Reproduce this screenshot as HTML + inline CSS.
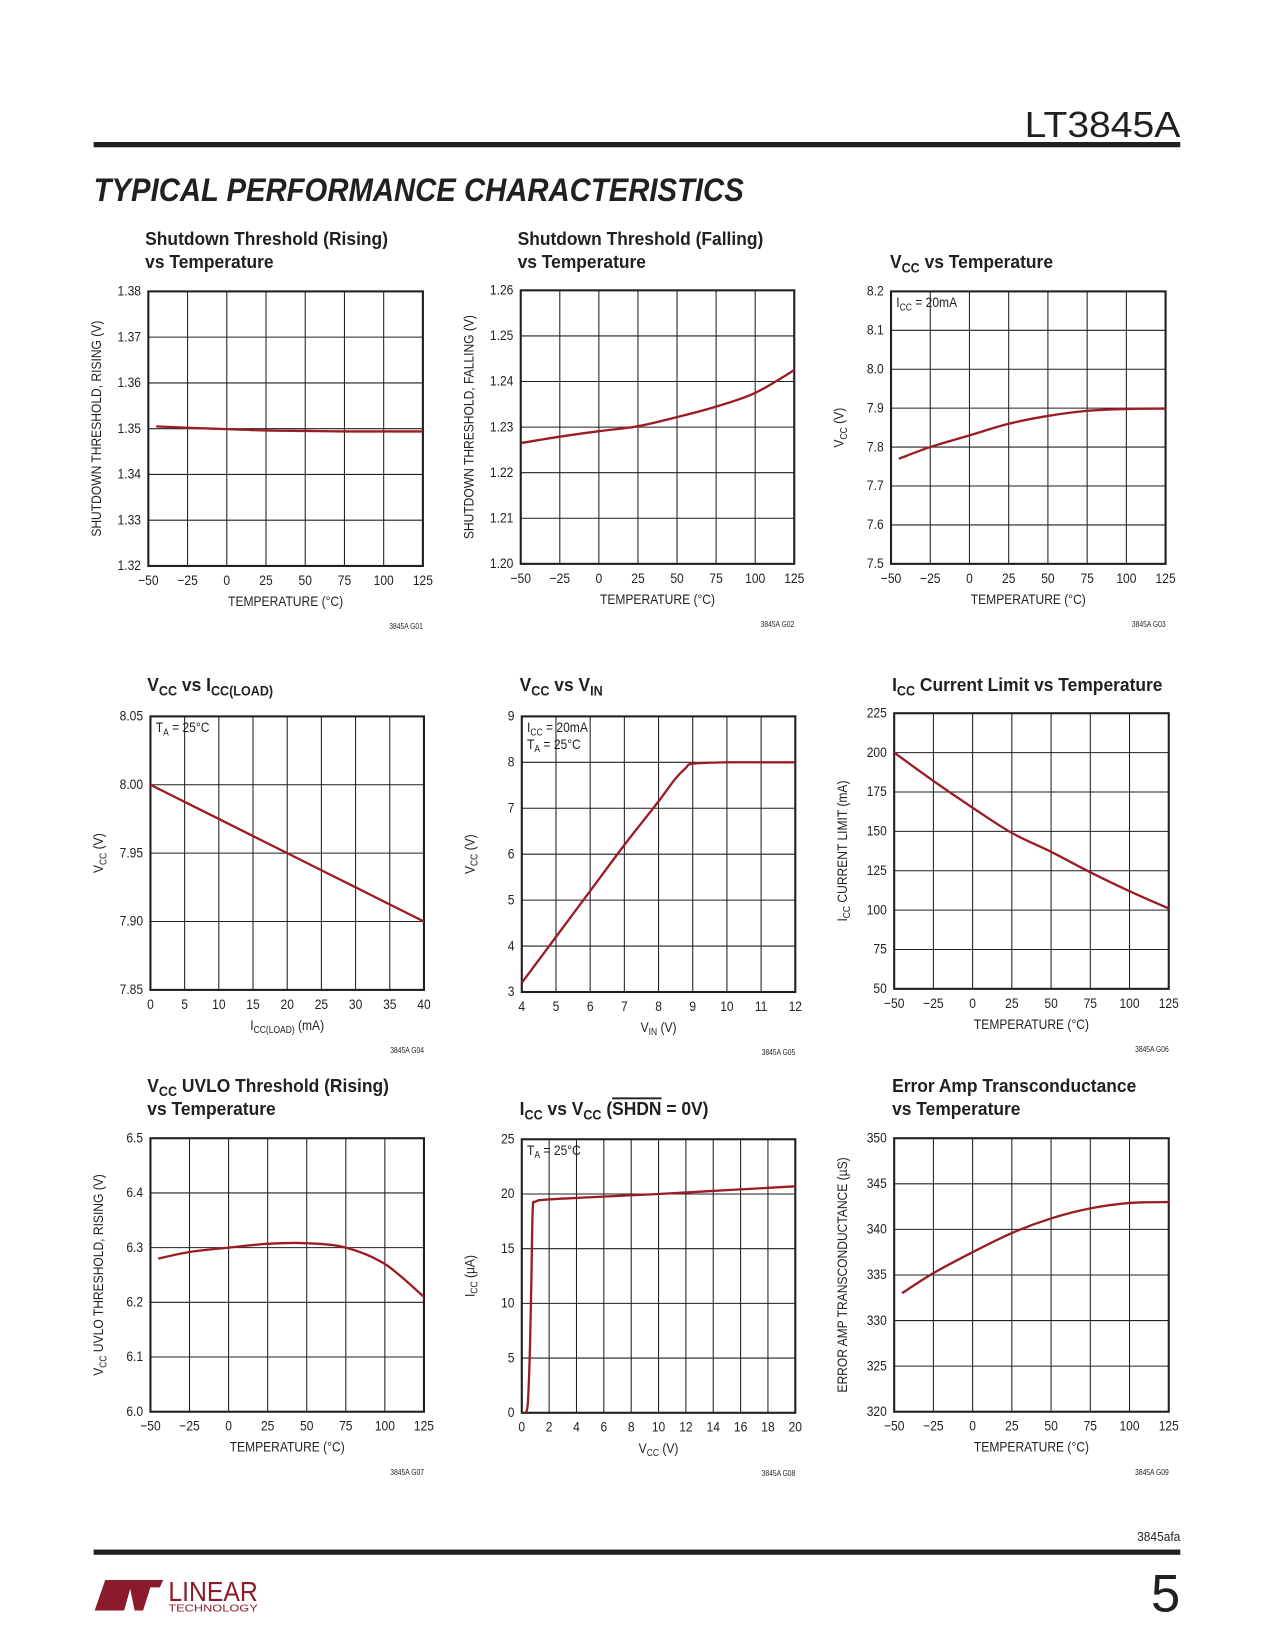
<!DOCTYPE html>
<html><head><meta charset="utf-8"><style>
html,body{margin:0;padding:0;background:#fff;}
svg{display:block;font-family:"Liberation Sans",sans-serif;}
.tk{font-size:13.5px;fill:#231f20;}
.ttl{font-size:18px;font-weight:bold;fill:#231f20;}
</style></head><body>
<svg id="pg" width="1275" height="1650" viewBox="0 0 1212 1568.5" xmlns="http://www.w3.org/2000/svg">
<text x="1122" y="130" text-anchor="end" font-size="34" font-weight="300" fill="#231f20" textLength="148" lengthAdjust="spacingAndGlyphs">LT3845A</text>
<rect x="89" y="135" width="1033" height="5" fill="#231f20"/>
<text x="89" y="191" font-size="31" font-weight="bold" font-style="italic" fill="#231f20" textLength="618" lengthAdjust="spacingAndGlyphs">TYPICAL PERFORMANCE CHARACTERISTICS</text>
<text x="1122" y="1465" text-anchor="end" font-size="12" fill="#231f20" textLength="41" lengthAdjust="spacingAndGlyphs">3845afa</text>
<rect x="89" y="1473" width="1033" height="5" fill="#231f20"/>
<text x="1122" y="1532" text-anchor="end" font-size="50" fill="#231f20">5</text>
<g>
<path d="M100 1502 L126 1502 L118 1531 L90 1531 Z" fill="#8b1a2b"/>
<path d="M122 1502 L155 1502 L152 1509 L143 1509 L136 1531 L128 1531 Z" fill="#8b1a2b"/>
<text x="160" y="1522" font-size="26" fill="#8b1a2b" textLength="85" lengthAdjust="spacingAndGlyphs">LINEAR</text>
<text x="160" y="1532" font-size="10" fill="#8b1a2b" textLength="85" lengthAdjust="spacingAndGlyphs">TECHNOLOGY</text>
</g>
<g id="charts"></g>
</svg>
<script>
// ---- data ----
const tempTicks=[-50,-25,0,25,50,75,100,125];
const c1x=[-45,-25,0,25,50,75,100,125], c1y=[1.3505,1.3502,1.3499,1.3496,1.3495,1.3494,1.3494,1.3494];
const c2x=[-50,-25,0,25,50,75,100,125], c2y=[1.2265,1.2279,1.2291,1.2302,1.2322,1.2345,1.2375,1.2425];
const c3x=[-45,-25,0,25,50,75,100,125], c3y=[7.77,7.80,7.83,7.86,7.88,7.893,7.898,7.899];
const c4x=[0,10,20,30,40], c4y=[8.00,7.975,7.95,7.925,7.90];
const c5x=[4,5,6,7,8,8.5,8.8,9,10,11,12], c5y=[3.2,4.2,5.2,6.2,7.15,7.65,7.88,7.97,8.0,8.0,8.0];
const c6x=[-50,-25,0,25,50,75,100,125], c6y=[200,182,165,149,137,124,112,101];
const c7x=[-45,-25,0,25,50,75,100,125], c7y=[6.28,6.292,6.30,6.307,6.308,6.30,6.27,6.21];
const c8x=[0.3,0.45,0.6,0.7,0.8,1,2,5,10,15,20], c8y=[0,1,6,12,18.5,19.3,19.5,19.7,20.0,20.35,20.7];
const c9x=[-45,-25,0,25,50,75,100,125], c9y=[333,335.2,337.5,339.6,341.2,342.3,342.9,343];

const S=(s)=>'<tspan font-size="9.5" dy="3">'+s+'</tspan><tspan dy="-3">';
const T=(s)=>'<tspan font-size="13" dy="4">'+s+'</tspan><tspan dy="-4">';
const charts=[
 {n:'shutdown-rising',b:[141,277,402,538],xt:tempTicks,yt:['1.32','1.33','1.34','1.35','1.36','1.37','1.38'],xs:c1x,ys:c1y,t:['Shutdown Threshold (Rising)','vs Temperature'],tx:138,ty:233,xl:'TEMPERATURE (°C)',yl:'SHUTDOWN THRESHOLD, RISING (V)',g:'3845A G01'},
 {n:'shutdown-falling',b:[495,276,755,536],xt:tempTicks,yt:['1.20','1.21','1.22','1.23','1.24','1.25','1.26'],xs:c2x,ys:c2y,t:['Shutdown Threshold (Falling)','vs Temperature'],tx:492,ty:233,xl:'TEMPERATURE (°C)',yl:'SHUTDOWN THRESHOLD, FALLING (V)',g:'3845A G02'},
 {n:'vcc-vs-temp',b:[847,277,1108,536],xt:tempTicks,yt:['7.5','7.6','7.7','7.8','7.9','8.0','8.1','8.2'],xs:c3x,ys:c3y,t:['V'+T('CC')+' vs Temperature</tspan>'],tx:846,ty:255,xl:'TEMPERATURE (°C)',yl:'V'+S('CC')+' (V)</tspan>',g:'3845A G03',ann:['I'+S('CC')+' = 20mA</tspan>']},
 {n:'vcc-vs-iload',b:[143,681,403,941],xt:[0,5,10,15,20,25,30,35,40],yt:['7.85','7.90','7.95','8.00','8.05'],xs:c4x,ys:c4y,t:['V'+T('CC')+' vs I</tspan>'+T('CC(LOAD)')+'</tspan>'],tx:140,ty:657,xl:'I'+S('CC(LOAD)')+' (mA)</tspan>',yl:'V'+S('CC')+' (V)</tspan>',g:'3845A G04',ann:['T'+S('A')+' = 25°C</tspan>']},
 {n:'vcc-vs-vin',b:[496,681,756,943],xt:[4,5,6,7,8,9,10,11,12],yt:['3','4','5','6','7','8','9'],xs:c5x,ys:c5y,t:['V'+T('CC')+' vs V</tspan>'+T('IN')+'</tspan>'],tx:494,ty:657,xl:'V'+S('IN')+' (V)</tspan>',yl:'V'+S('CC')+' (V)</tspan>',g:'3845A G05',ann:['I'+S('CC')+' = 20mA</tspan>','T'+S('A')+' = 25°C</tspan>']},
 {n:'icc-limit-vs-temp',b:[850,678,1111,940],xt:tempTicks,yt:['50','75','100','125','150','175','200','225'],xs:c6x,ys:c6y,t:['I'+T('CC')+' Current Limit vs Temperature</tspan>'],tx:848,ty:657,xl:'TEMPERATURE (°C)',yl:'I'+S('CC')+' CURRENT LIMIT (mA)</tspan>',g:'3845A G06'},
 {n:'uvlo-vs-temp',b:[143,1082,403,1342],xt:tempTicks,yt:['6.0','6.1','6.2','6.3','6.4','6.5'],xs:c7x,ys:c7y,t:['V'+T('CC')+' UVLO Threshold (Rising)</tspan>','vs Temperature'],tx:140,ty:1038,xl:'TEMPERATURE (°C)',yl:'V'+S('CC')+' UVLO THRESHOLD, RISING (V)</tspan>',g:'3845A G07'},
 {n:'icc-vs-vcc',b:[496,1083,756,1343],xt:[0,2,4,6,8,10,12,14,16,18,20],yt:['0','5','10','15','20','25'],xs:c8x,ys:c8y,t:['I'+T('CC')+' vs V</tspan>'+T('CC')+' (<tspan text-decoration="overline">SHDN</tspan> = 0V)</tspan>'],tx:494,ty:1060,xl:'V'+S('CC')+' (V)</tspan>',yl:'I'+S('CC')+' (µA)</tspan>',g:'3845A G08',ann:['T'+S('A')+' = 25°C</tspan>']},
 {n:'gm-vs-temp',b:[850,1082,1111,1342],xt:tempTicks,yt:['320','325','330','335','340','345','350'],xs:c9x,ys:c9y,t:['Error Amp Transconductance','vs Temperature'],tx:848,ty:1038,xl:'TEMPERATURE (°C)',yl:'ERROR AMP TRANSCONDUCTANCE (µS)',g:'3845A G09'}
];
const NS='http://www.w3.org/2000/svg';
const root=document.getElementById('charts');
function mk(tag,attrs,parent){const e=document.createElementNS(NS,tag);for(const k in attrs)e.setAttribute(k,attrs[k]);parent.appendChild(e);return e;}
function txt(parent,x,y,html,cls,anchor,rot,sx){
 const e=mk('text',{x:0,y:0,class:cls,'text-anchor':anchor||'start',transform:'translate('+x+' '+y+') rotate('+(rot||0)+') scale('+(sx||0.85)+' 1)'},parent);
 e.innerHTML=html;return e;}
charts.forEach((c,i)=>{
 const g=mk('g',{},root);
 
 
 const [x0,y0,x1,y1]=c.b;
 const xmin=c.xt[0],xmax=c.xt[c.xt.length-1];
 const ymin=+c.yt[0],ymax=+c.yt[c.yt.length-1];
 const sx=v=>x0+(v-xmin)/(xmax-xmin)*(x1-x0);
 const sy=v=>y1-(v-ymin)/(ymax-ymin)*(y1-y0);
 c.t.forEach((s,k)=>{const tt=txt(g,c.tx,c.ty+k*22,s,'ttl','start',0,0.92);
  
  });
 c.xt.forEach(v=>{const l=mk('line',{x1:sx(v),x2:sx(v),y1:y0,y2:y1,stroke:'#231f20','stroke-width':1},g);
  
  
  const t=txt(g,sx(v),y1+18,v<0?'\u2212'+(-v):String(v),'tk','middle');
  
  });
 c.yt.forEach(s=>{const v=+s;const l=mk('line',{x1:x0,x2:x1,y1:sy(v),y2:sy(v),stroke:'#231f20','stroke-width':1},g);
  
  
  const t=txt(g,x0-7,sy(v)+4,s,'tk','end');
  
  });
 const fr=mk('rect',{x:x0,y:y0,width:x1-x0,height:y1-y0,fill:'none',stroke:'#231f20','stroke-width':2},g);
 
 
 let pts=c.xs.map((x,k)=>[sx(x),sy(c.ys[k])]);
 let d='M'+pts[0][0]+' '+pts[0][1];
 for(let k=1;k<pts.length;k++){const p0=pts[k-2]||pts[k-1],p1=pts[k-1],p2=pts[k],p3=pts[k+1]||p2;
  d+=' C'+(p1[0]+(p2[0]-p0[0])/6)+' '+(p1[1]+(p2[1]-p0[1])/6)+' '+(p2[0]-(p3[0]-p1[0])/6)+' '+(p2[1]-(p3[1]-p1[1])/6)+' '+p2[0]+' '+p2[1];}
 const cv=mk('path',{d:d,fill:'none',stroke:'#9b1c24','stroke-width':2.2},g);
 
 
 const xl=txt(g,(x0+x1)/2,y1+38,c.xl,'tk','middle');
 
 
 const yl=txt(g,x0-45,(y0+y1)/2,c.yl,'tk','middle',-90);
 
 
 const gc=txt(g,x1,y1+60,c.g,'tk','end',0,0.8);
 gc.setAttribute('style','font-size:8px');
 
 
 (c.ann||[]).forEach((a,k)=>{const t=txt(g,x0+5,y0+15+k*16,a,'tk');
  
  });
});
</script>
</body></html>
